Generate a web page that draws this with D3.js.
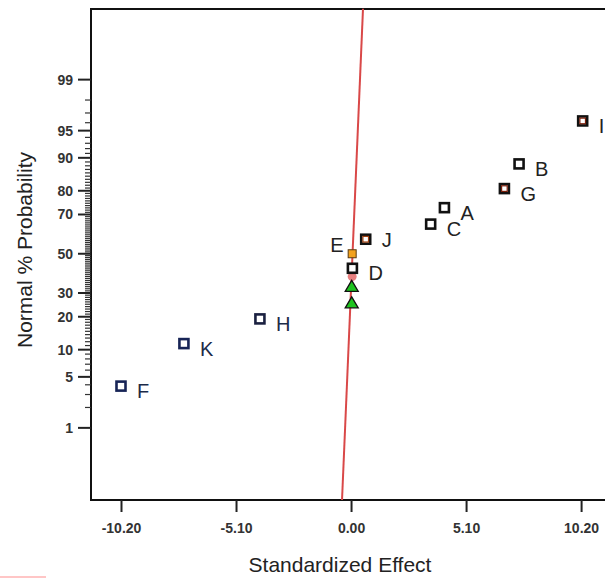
<!DOCTYPE html>
<html><head><meta charset="utf-8">
<script src="https://cdn.jsdelivr.net/npm/d3@7"></script>
<style>body{margin:0;background:#fff}svg{display:block}</style>
</head><body>
<svg id="c" width="605" height="579"></svg>
<script>
// ---- data ----
const effects = ["F","K","H","e1","e2","D","E","J","C","A","G","B","I"];
const effectValues = [-10.2,-7.41,-4.04,0.03,0.03,0.06,0.05,0.65,3.53,4.14,6.80,7.45,10.27];
const probabilities = [3.85,11.5,19.2,26.9,34.6,42.3,50.0,57.7,65.4,73.1,80.8,88.5,96.2];
const markerType = ["sq","sq","sq","tri","tri","sq","small","sq","sq","sq","sq","sq","sq"];
const xTickValues = [-10.2,-5.1,0,5.1,10.2];
const xTickLabels = ["-10.20","-5.10","0.00","5.10","10.20"];
const yTickValues = [1,5,10,20,30,50,70,80,90,95,99];
const yTickLabels = ["1","5","10","20","30","50","70","80","90","95","99"];
const lineEffects = [-0.40,0.53];
const lineProbs = [0.05,99.947];
const hiddenPoint = {effect:0.05, prob:38.0};

// ---- styles ----
const colorOf = {F:"#172456",K:"#172456",H:"#1a2040",I:"#7a1e0a",G:"#7a1e0a",J:"#a04010",D:"#111",A:"#111",B:"#111",C:"#111",E:"#111"};
const labelOffset = {E:[-22,-2],J:[16,8]};

// inverse normal CDF (Acklam)
function probit(p){
  const a=[-3.969683028665376e+01,2.209460984245205e+02,-2.759285104469687e+02,1.383577518672690e+02,-3.066479806614716e+01,2.506628277459239e+00];
  const b=[-5.447609879822406e+01,1.615858368580409e+02,-1.556989798598866e+02,6.680131188771972e+01,-1.328068155288572e+01];
  const c=[-7.784894002430293e-03,-3.223964580411365e-01,-2.400758277161838e+00,-2.549732539343734e+00,4.374664141464968e+00,2.938163982698783e+00];
  const d=[7.784695709041462e-03,3.224671290700398e-01,2.445134137142996e+00,3.754408661907416e+00];
  const pl=0.02425;
  let q,r;
  if(p<pl){q=Math.sqrt(-2*Math.log(p));return (((((c[0]*q+c[1])*q+c[2])*q+c[3])*q+c[4])*q+c[5])/((((d[0]*q+d[1])*q+d[2])*q+d[3])*q+1);}
  if(p>1-pl){q=Math.sqrt(-2*Math.log(1-p));return -(((((c[0]*q+c[1])*q+c[2])*q+c[3])*q+c[4])*q+c[5])/((((d[0]*q+d[1])*q+d[2])*q+d[3])*q+1);}
  q=p-0.5;r=q*q;
  return (((((a[0]*r+a[1])*r+a[2])*r+a[3])*r+a[4])*r+a[5])*q/(((((b[0]*r+b[1])*r+b[2])*r+b[3])*r+b[4])*r+1);
}

const svg = d3.select("#c");
const L=91, T=9, B=500, R=605;
const x = d3.scaleLinear().domain([-11.53,11.26]).range([L,R]);
const yz = d3.scaleLinear().domain([-3.29,3.27]).range([B,T]);
const y = p => yz(probit(p/100));

const font = "'Liberation Sans', Arial, sans-serif";

// frame
svg.append("path").attr("d",`M${R},${T}H${L}V${B}H${R}`).attr("fill","none").attr("stroke","#111").attr("stroke-width",2);

// x axis
const xAxis = d3.axisBottom(x).tickValues(xTickValues).tickFormat((d,i)=>xTickLabels[i]).tickSize(12).tickSizeOuter(0);
const gx = svg.append("g").attr("transform",`translate(0,${B})`).call(xAxis);
gx.select(".domain").remove();
gx.selectAll(".tick line").attr("stroke","#222").attr("stroke-width",2);
gx.selectAll(".tick text").attr("font-family",font).attr("font-size",14).attr("font-weight","bold").attr("fill","#333").attr("dy","1.25em");

// y axis minor ticks
const minor = d3.range(1,100).filter(v=>!yTickValues.includes(v));
svg.append("g").selectAll("line").data(minor).join("line")
  .attr("x1",L-6).attr("x2",L).attr("y1",d=>y(d)).attr("y2",d=>y(d))
  .attr("stroke","#333").attr("stroke-width",1.2);
const gy = svg.append("g");
gy.selectAll("line").data(yTickValues).join("line")
  .attr("x1",L-13).attr("x2",L).attr("y1",d=>y(d)).attr("y2",d=>y(d))
  .attr("stroke","#222").attr("stroke-width",2);
gy.selectAll("text").data(yTickValues).join("text")
  .attr("x",L-18).attr("y",d=>y(d)).attr("dy","0.35em").attr("text-anchor","end")
  .attr("font-family",font).attr("font-size",14).attr("font-weight","bold").attr("fill","#333")
  .text((d,i)=>yTickLabels[i]);

// titles
svg.append("text").attr("x",340).attr("y",572).attr("text-anchor","middle")
  .attr("font-family",font).attr("font-size",21).attr("fill","#222").text("Standardized Effect");
svg.append("text").attr("transform","translate(32,250) rotate(-90)").attr("text-anchor","middle")
  .attr("font-family",font).attr("font-size",21).attr("fill","#222").text("Normal % Probability");

// red line
svg.append("line")
  .attr("x1",x(lineEffects[0])).attr("y1",y(lineProbs[0]))
  .attr("x2",x(lineEffects[1])).attr("y2",y(lineProbs[1]))
  .attr("stroke","#d94848").attr("stroke-width",2);

// hidden pink marker
svg.append("circle").attr("cx",x(hiddenPoint.effect)).attr("cy",y(hiddenPoint.prob)).attr("r",4.5).attr("fill","#e88080");

// points
const pts = effects.map((n,i)=>({n,v:effectValues[i],p:probabilities[i],t:markerType[i]}));
const g = svg.append("g");
pts.forEach(d=>{
  const cx=x(d.v), cy=y(d.p);
  if(d.t==="tri"){
    g.append("path").attr("d",`M${cx},${cy-3}L${cx+6.5},${cy+8}L${cx-6.5},${cy+8}Z`)
      .attr("fill","#1fc41f").attr("stroke","#111").attr("stroke-width",1.3);
  } else if(d.t==="small"){
    g.append("rect").attr("x",cx-4).attr("y",cy-4).attr("width",8).attr("height",8)
      .attr("fill","#f3a21e").attr("stroke","#5a3a10").attr("stroke-width",1);
  } else {
    const col = colorOf[d.n];
    g.append("rect").attr("x",cx-4.5).attr("y",cy-4.5).attr("width",9).attr("height",9)
      .attr("fill","#fff").attr("stroke",col==="#111"||col==="#7a1e0a"||col==="#a04010"?"#111":col).attr("stroke-width",2.6);
    if(col==="#7a1e0a"||col==="#a04010"){
      g.append("rect").attr("x",cx-2.8).attr("y",cy-2.8).attr("width",5.6).attr("height",5.6)
        .attr("fill","#fff").attr("stroke",col).attr("stroke-width",1.2);
    }
  }
  if(d.t!=="tri"){
    const off = labelOffset[d.n]||[16,12];
    g.append("text").attr("x",cx+off[0]).attr("y",cy+off[1])
      .attr("font-family",font).attr("font-size",20).attr("fill",d.n==="F"||d.n==="K"||d.n==="H"?"#1b2a48":"#222")
      .text(d.n);
  }
});

// pink stroke at bottom-left
svg.append("line").attr("x1",0).attr("x2",46).attr("y1",577).attr("y2",577).attr("stroke","#ffc6c6").attr("stroke-width",2);
</script>
</body></html>
